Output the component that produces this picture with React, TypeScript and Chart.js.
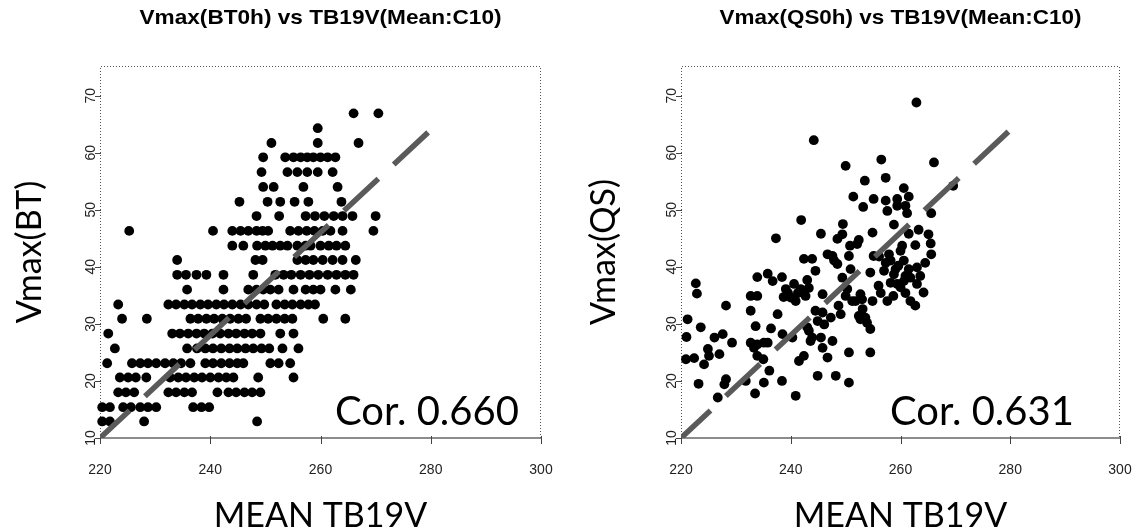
import React, { useEffect, useRef } from "react";
import { Chart, registerables } from "chart.js";

Chart.register(...registerables);

// ---------- axes ----------
const xTicks = [220, 240, 260, 280, 300];
const yTicks = [10, 20, 30, 40, 50, 60, 70];
const xMin = 220;
const xMax = 300;
const yMin = 10;
const yMax = 75.2;

// dashed reference line (same in both panels)
const fitX = [220, 280];
const fitY = [10, 64];

// ---------- left panel: Vmax(BT) levels (5-kt steps in m/s) and MEAN TB19V per level ----------
const btLevels = [66.9, 64.3, 61.7, 59.2, 56.6, 54.0, 51.4, 48.9, 46.3, 43.7, 41.2, 38.6, 36.0, 33.4, 30.9, 28.3, 25.7, 23.1, 20.6, 18.0, 15.4, 12.9];
const bt669 = [266.0, 270.5];
const bt643 = [259.5];
const bt617 = [251.1, 259.5, 266.9];
const bt592 = [249.6, 253.6, 255.1, 256.4, 257.6, 258.7, 260.0, 261.3, 262.7];
const bt566 = [249.3, 254.0, 255.8, 257.6, 259.5, 262.2];
const bt540 = [249.6, 251.5, 256.9, 263.1];
const bt514 = [245.3, 250.4, 252.7, 255.3, 257.8, 263.8];
const bt489 = [248.4, 252.5, 257.3, 259.0, 260.7, 262.4, 264.0, 265.8, 270.0];
const bt463 = [225.3, 240.5, 244.0, 245.5, 246.9, 248.4, 249.5, 250.5, 254.5, 256.0, 257.5, 258.9, 260.4, 261.8, 264.0, 269.6];
const bt437 = [244.0, 246.0, 248.5, 250.0, 251.3, 252.7, 254.0, 255.8, 257.3, 258.2, 260.0, 261.5, 262.9, 264.5];
const bt412 = [234.0, 248.2, 249.5, 255.8, 257.3, 258.7, 260.4, 262.2, 264.0, 266.4];
const bt386 = [234.0, 235.6, 237.5, 239.3, 242.4, 247.8, 251.8, 253.3, 254.7, 256.4, 258.0, 259.6, 261.3, 262.9, 264.5, 266.0];
const bt360 = [235.8, 242.4, 246.9, 248.4, 249.6, 250.9, 252.4, 255.1, 257.3, 258.7, 260.0, 262.7, 265.5];
const bt334 = [223.3, 232.4, 233.8, 235.3, 236.7, 238.2, 239.6, 241.1, 242.5, 244.0, 245.5, 246.9, 248.4, 249.8, 252.0, 253.5, 254.9, 256.4, 257.8, 259.0];
const bt309 = [224.0, 228.5, 236.4, 237.8, 239.3, 240.7, 242.2, 243.6, 245.1, 246.5, 249.1, 250.5, 252.0, 253.5, 254.9, 260.5, 264.5];
const bt283 = [221.5, 233.1, 234.5, 236.0, 237.5, 238.9, 240.4, 241.8, 243.3, 244.7, 246.2, 247.6, 249.1, 252.7, 255.1];
const bt257 = [222.7, 235.8, 237.6, 239.1, 240.5, 242.0, 243.5, 244.9, 246.4, 247.8, 249.3, 250.7, 253.1, 256.0];
const bt231 = [221.3, 225.8, 227.3, 228.7, 230.2, 231.8, 233.3, 234.7, 236.4, 239.1, 240.5, 242.0, 243.5, 244.9, 246.0, 250.9, 252.4, 254.5];
const bt206 = [223.6, 225.1, 226.5, 228.4, 232.7, 234.2, 235.6, 237.1, 238.5, 240.0, 241.5, 242.9, 244.2, 248.7, 255.1];
const bt180 = [223.3, 224.7, 226.2, 232.4, 233.8, 235.3, 236.7, 241.3, 243.3, 244.7, 246.2, 247.6, 249.1];
const bt154 = [220.4, 221.8, 224.2, 225.6, 227.3, 228.7, 230.2, 236.9, 238.4, 239.8];
const bt129 = [220.4, 221.8, 228.0, 248.5];
const btRows = [bt669, bt643, bt617, bt592, bt566, bt540, bt514, bt489, bt463, bt437, bt412, bt386, bt360, bt334, bt309, bt283, bt257, bt231, bt206, bt180, bt154, bt129];

// ---------- right panel: MEAN TB19V and Vmax(QS) ----------
const qsX = [262.9, 244.2, 256.5, 266.1, 250.0, 257.3, 253.5, 269.6, 260.6, 251.4, 255.1, 253.2, 257.3, 259.4, 261.5, 257.6, 261.2, 259.4, 265.6, 241.9,
  237.3, 245.5, 249.5, 249.4, 254.9, 258.8, 261.5, 263.3, 265.1, 252.4, 250.8, 260.3, 262.7, 265.5, 248.5, 252.1, 265.6, 257.9, 256.1, 247.6,
  250.6, 242.4, 243.9, 246.7, 247.9, 248.5, 222.7, 222.9, 233.9, 235.8, 236.7, 238.4, 232.7, 233.9, 228.2, 239.1, 240.6, 241.3, 240.0, 243.0,
  244.5, 245.8, 232.7, 237.6, 221.2, 223.6, 233.6, 236.4, 221.0, 226.1, 227.6, 229.3, 232.7, 233.9, 235.1, 235.8, 238.5, 240.3, 243.3, 243.9,
  220.9, 222.4, 224.9, 225.1, 224.2, 227.0, 233.3, 233.9, 235.0, 236.1, 241.5, 242.4, 245.8, 246.7, 223.2, 228.2, 227.9, 231.8, 235.1, 238.4,
  244.9, 226.7, 233.5, 240.9, 250.9, 249.4, 250.3, 251.8, 253.0, 252.7, 253.9, 254.5, 254.9, 254.5, 255.1, 258.2, 257.0, 258.8, 258.2, 259.4,
  260.6, 261.8, 263.0, 263.0, 264.2, 262.7, 260.6, 257.6, 260.0, 243.0, 244.9, 246.1, 243.6, 245.5, 247.6, 244.5, 245.8, 247.3, 249.1, 250.6,
  254.5, 248.2, 250.6, 252.4, 253.6, 251.2, 252.7, 241.8, 239.5, 242.7, 259.6, 260.9, 256.0, 261.8, 260.9, 260.0,
  257.3, 259.1, 261.5, 263.6, 264.5, 256.4, 258.7, 260.9, 240.9, 243.3, 238.7, 250.0, 248.7, 253.1];
const qsY = [68.8, 62.2, 58.8, 58.3, 57.7, 55.6, 55.1, 54.2, 53.8, 52.3, 51.9, 50.5, 51.6, 51.9, 52.3, 49.8, 49.4, 50.7, 49.4, 48.2,
  45.0, 45.8, 47.5, 45.7, 46.0, 47.4, 45.8, 46.5, 45.7, 44.7, 43.7, 43.7, 43.8, 44.1, 44.9, 44.0, 42.2, 42.2, 41.8, 41.9,
  41.9, 41.4, 41.4, 42.2, 41.1, 40.5, 37.1, 35.3, 38.2, 38.8, 37.5, 38.2, 34.9, 34.9, 33.2, 36.1, 37.0, 35.4, 34.6, 37.7,
  39.3, 35.2, 32.3, 31.7, 30.8, 29.4, 29.6, 29.2, 27.7, 27.6, 28.2, 26.7, 26.7, 26.4, 26.7, 26.7, 28.2, 27.6, 28.8, 27.6,
  23.8, 24.0, 25.6, 24.4, 22.9, 24.7, 25.8, 24.4, 23.8, 21.8, 23.5, 24.4, 25.8, 24.1, 19.5, 20.3, 19.4, 20.0, 19.7, 20.0,
  20.9, 17.1, 17.8, 17.4, 39.6, 38.1, 36.1, 34.0, 34.3, 30.8, 30.2, 29.1, 34.0, 39.0, 41.9, 41.1, 39.3, 38.7, 37.2, 37.0,
  37.5, 38.1, 39.9, 37.0, 35.5, 33.2, 41.1, 34.0, 36.4, 29.4, 30.5, 29.9, 27.0, 27.6, 27.0, 32.3, 32.0, 31.1, 31.7, 25.0,
  25.0, 20.9, 19.7, 31.4, 31.1, 34.0, 35.2, 36.1, 35.4, 34.9, 40.2, 35.4, 36.7, 34.0, 50.7, 42.8,
  40.7, 39.6, 39.6, 38.4, 40.7, 35.4, 34.9, 38.4, 34.0, 36.3, 34.7, 34.9, 33.2, 32.6];

// ---------- text ----------
const leftTitle = "Vmax(BT0h) vs TB19V(Mean:C10)";
const rightTitle = "Vmax(QS0h) vs TB19V(Mean:C10)";
const leftYTitle = "Vmax(BT)";
const rightYTitle = "Vmax(QS)";
const xTitle = "MEAN TB19V";
const leftCor = "Cor. 0.660";
const rightCor = "Cor. 0.631";

const W = 1137;
const H = 532;
const PLOT_TOP = 66;
const PLOT_BOTTOM = 438;

type PanelProps = {
  left: number;
  width: number;
  plotLeft: number;
  plotRight: number;
  title: string;
  yTitle: string;
  yTitleX: number;
  cor: string;
  corX: number;
  points: { x: number; y: number }[];
};

function Panel(p: PanelProps) {
  const ref = useRef<HTMLCanvasElement>(null);
  useEffect(() => {
    const canvas = ref.current!;
    const padRight = p.width - p.plotRight;
    const plugin = {
      id: "decor",
      beforeDatasetsDraw(chart: any) {
        const { ctx, chartArea: a, scales } = chart;
        ctx.save();
        // dotted frame (left, top, right)
        ctx.strokeStyle = "#555";
        ctx.lineWidth = 1;
        ctx.setLineDash([1, 2]);
        ctx.beginPath();
        ctx.moveTo(a.left + 0.5, a.bottom);
        ctx.lineTo(a.left + 0.5, a.top + 0.5);
        ctx.lineTo(a.right - 0.5, a.top + 0.5);
        ctx.lineTo(a.right - 0.5, a.bottom);
        ctx.stroke();
        ctx.setLineDash([]);
        // bottom axis line
        ctx.strokeStyle = "#666";
        ctx.lineWidth = 1.5;
        ctx.beginPath();
        ctx.moveTo(a.left, a.bottom);
        ctx.lineTo(a.right, a.bottom);
        ctx.stroke();
        // ticks
        ctx.lineWidth = 1;
        ctx.strokeStyle = "#444";
        xTicks.forEach((v) => {
          const x = Math.round(scales.x.getPixelForValue(v)) + 0.5;
          ctx.beginPath();
          ctx.moveTo(x, a.bottom - 2);
          ctx.lineTo(x, a.bottom + 6);
          ctx.stroke();
        });
        yTicks.forEach((v) => {
          const y = Math.round(scales.y.getPixelForValue(v)) + 0.5;
          ctx.beginPath();
          ctx.moveTo(a.left - 5, y);
          ctx.lineTo(a.left + 1, y);
          ctx.stroke();
        });
        // tick labels
        ctx.fillStyle = "#222";
        ctx.font = '14px "Liberation Sans", Arial, sans-serif';
        ctx.textAlign = "center";
        ctx.textBaseline = "middle";
        xTicks.forEach((v) => {
          ctx.fillText(String(v), scales.x.getPixelForValue(v), 470);
        });
        yTicks.forEach((v) => {
          ctx.save();
          ctx.translate(a.left - 9, scales.y.getPixelForValue(v));
          ctx.rotate(-Math.PI / 2);
          ctx.fillText(String(v), 0, 0);
          ctx.restore();
        });
        // title (bold)
        ctx.fillStyle = "#000";
        ctx.font = 'bold 21px "Liberation Sans", Arial, sans-serif';
        const tw = ctx.measureText(p.title).width;
        ctx.save();
        ctx.translate((a.left + a.right) / 2, 18);
        ctx.scale(362 / tw, 1);
        ctx.fillText(p.title, 0, 0);
        ctx.restore();
        // axis titles
        ctx.font = '34px "Lato", "Open Sans", sans-serif';
        ctx.textBaseline = "alphabetic";
        ctx.fillText(xTitle, (a.left + a.right) / 2, 527);
        ctx.save();
        ctx.translate(p.yTitleX, (a.top + a.bottom) / 2);
        ctx.rotate(-Math.PI / 2);
        ctx.textBaseline = "middle";
        ctx.fillText(p.yTitle, 0, 0);
        ctx.restore();
        ctx.restore();
      },
      afterDatasetsDraw(chart: any) {
        const { ctx } = chart;
        ctx.save();
        ctx.fillStyle = "#000";
        ctx.font = '40px "Lato", "Open Sans", sans-serif';
        ctx.textAlign = "left";
        ctx.textBaseline = "alphabetic";
        ctx.fillText(p.cor, p.corX, 425);
        ctx.restore();
      },
    };

    const chart = new Chart(canvas, {
      type: "scatter",
      data: {
        datasets: [
          {
            type: "line",
            data: fitX.map((x, i) => ({ x, y: fitY[i] })),
            borderColor: "#5a5a5a",
            borderWidth: 5.5,
            borderDash: [47, 21],
            borderDashOffset: 6.6,
            borderCapStyle: "butt",
            pointRadius: 0,
            fill: false,
          } as any,
          {
            type: "scatter",
            data: p.points,
            backgroundColor: "#000",
            borderWidth: 0,
            pointRadius: 4.9,
            clip: false,
          } as any,
        ],
      },
      options: {
        animation: false,
        responsive: false,
        devicePixelRatio: 1,
        events: [],
        layout: { padding: { top: PLOT_TOP, right: padRight, bottom: 0, left: 0 }, autoPadding: false },
        plugins: { legend: { display: false }, tooltip: { enabled: false }, title: { display: false } },
        scales: {
          x: {
            type: "linear",
            min: xMin,
            max: xMax,
            ticks: { display: false },
            grid: { display: false },
            border: { display: false },
            afterFit: (s: any) => {
              s.height = H - PLOT_BOTTOM;
            },
          },
          y: {
            type: "linear",
            min: yMin,
            max: yMax,
            ticks: { display: false },
            grid: { display: false },
            border: { display: false },
            afterFit: (s: any) => {
              s.width = p.plotLeft;
            },
          },
        },
      } as any,
      plugins: [plugin],
    });
    return () => chart.destroy();
  }, []);
  return (
    <canvas
      ref={ref}
      width={p.width}
      height={H}
      style={{ position: "absolute", left: p.left, top: 0, width: p.width, height: H, display: "block" }}
    />
  );
}

export default function App() {
  const btPoints: { x: number; y: number }[] = [];
  btRows.forEach((row, i) => row.forEach((x) => btPoints.push({ x, y: btLevels[i] })));
  const qsPoints = qsX.map((x, i) => ({ x, y: qsY[i] }));
  return (
    <div style={{ position: "fixed", left: 0, top: 0, width: W, height: H, background: "#fff", overflow: "hidden" }}>
      <Panel left={0} width={568} plotLeft={100} plotRight={541} title={leftTitle} yTitle={leftYTitle} yTitleX={30} cor={leftCor} corX={335} points={btPoints} />
      <Panel left={568} width={569} plotLeft={113} plotRight={552} title={rightTitle} yTitle={rightYTitle} yTitleX={36} cor={rightCor} corX={322} points={qsPoints} />
    </div>
  );
}
